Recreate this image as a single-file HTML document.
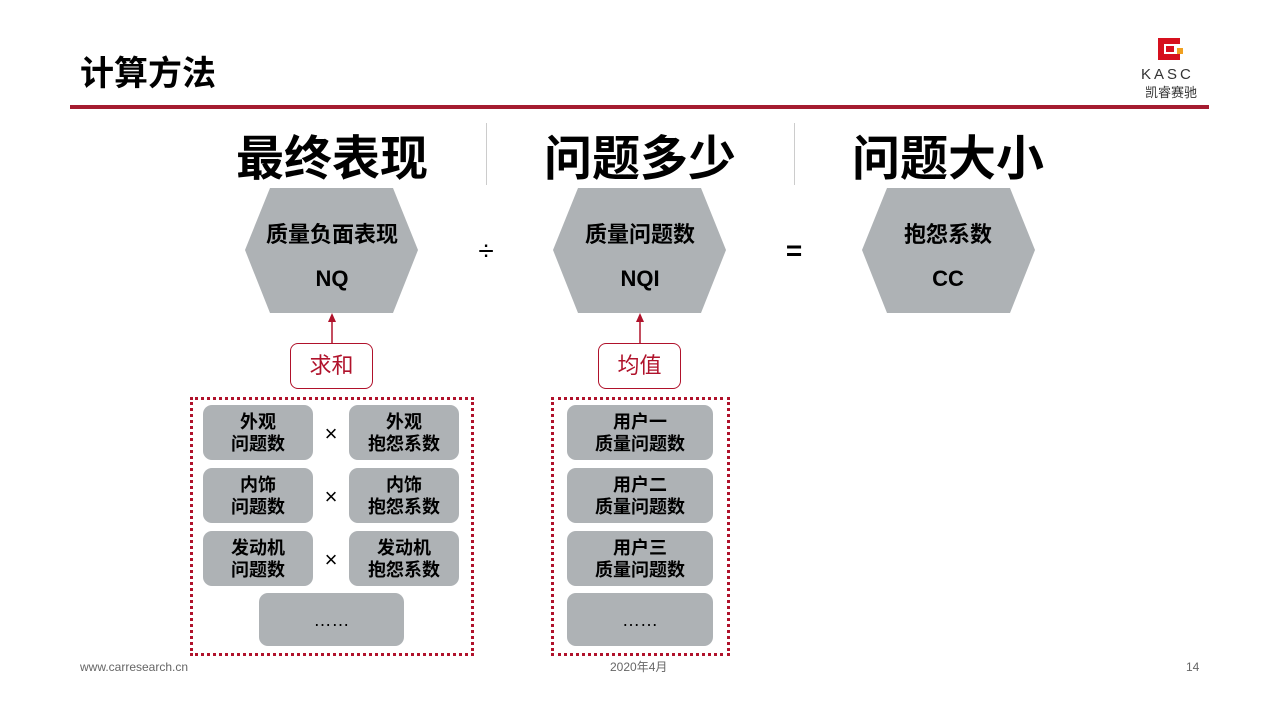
<!DOCTYPE html>
<html><head><meta charset="utf-8"><style>
body{margin:0;width:1280px;height:720px;background:#fff;position:relative;overflow:hidden;font-family:"Liberation Sans","Noto Sans CJK SC",sans-serif}
.a{position:absolute}
.h{position:absolute;font-size:48px;font-weight:bold;text-align:center;width:300px;top:119px;color:#000}
.sb{position:absolute;background:#aeb2b5;border-radius:9px;color:#000;font-weight:bold;font-size:18px;line-height:22px;text-align:center;display:flex;align-items:center;justify-content:center}
.x{position:absolute;font-size:22px;width:30px;text-align:center}
.lb{position:absolute;border:1.5px solid #b0122b;border-radius:8px;color:#b0122b;font-size:22px;text-align:center;line-height:44px;width:81px;height:44px;background:#fff}
.db{position:absolute;border:3px dotted #b0122b}
.ft{position:absolute;top:660px;font-size:12px;color:#666}
</style></head><body>
<div class="a" style="left:80px;top:46px;font-size:34px;font-weight:bold">计算方法</div>
<div class="a" style="left:1158px;top:38px;width:22px;height:22px;border:6px solid #d6101e;border-right:none;box-sizing:border-box"></div>
<div class="a" style="left:1166px;top:46px;width:8px;height:6px;background:#d6101e"></div>
<div class="a" style="left:1177px;top:48px;width:6px;height:6px;background:#f0a020"></div>
<div class="a" style="left:1141px;top:66px;font-size:15px;letter-spacing:3px;color:#333">KASC</div>
<div class="a" style="left:1145px;top:82px;font-size:13px;color:#333">凯睿赛驰</div>
<div class="a" style="left:70px;top:105px;width:1139px;height:4px;background:#a51c30"></div>
<div class="h" style="left:182px">最终表现</div>
<div class="h" style="left:490px">问题多少</div>
<div class="h" style="left:798px">问题大小</div>
<div class="a" style="left:486px;top:123px;width:1px;height:62px;background:#ccc"></div>
<div class="a" style="left:794px;top:123px;width:1px;height:62px;background:#ccc"></div>
<svg class="a" style="left:0;top:0" width="1280" height="720">
<polygon points="270,188 393,188 418,250 393,313 270,313 245,250" fill="#aeb2b5"/>
<polygon points="578,188 701,188 726,250 701,313 578,313 553,250" fill="#aeb2b5"/>
<polygon points="887,188 1010,188 1035,250 1010,313 887,313 862,250" fill="#aeb2b5"/>
<line x1="332" y1="343" x2="332" y2="320" stroke="#b0122b" stroke-width="1.5"/>
<polygon points="328,322 336,322 332,313" fill="#b0122b"/>
<line x1="640" y1="343" x2="640" y2="320" stroke="#b0122b" stroke-width="1.5"/>
<polygon points="636,322 644,322 640,313" fill="#b0122b"/>
<g font-family="Liberation Sans,Noto Sans CJK SC,sans-serif" font-weight="bold" font-size="22" text-anchor="middle">
<text x="332" y="242">质量负面表现</text><text x="332" y="286">NQ</text>
<text x="640" y="242">质量问题数</text><text x="640" y="286">NQI</text>
<text x="948" y="242">抱怨系数</text><text x="948" y="286">CC</text>
<text x="486" y="260" font-weight="normal" font-size="28">÷</text>
<text x="794" y="260" font-size="28">=</text>
</g>
</svg>
<div class="lb" style="left:290px;top:343px">求和</div>
<div class="lb" style="left:598px;top:343px">均值</div>
<div class="db" style="left:190px;top:397px;width:278px;height:253px"></div>
<div class="db" style="left:551px;top:397px;width:173px;height:253px"></div>
<div class="sb" style="left:203px;top:405px;width:110px;height:55px">外观<br>问题数</div>
<div class="sb" style="left:349px;top:405px;width:110px;height:55px">外观<br>抱怨系数</div>
<div class="sb" style="left:203px;top:468px;width:110px;height:55px">内饰<br>问题数</div>
<div class="sb" style="left:349px;top:468px;width:110px;height:55px">内饰<br>抱怨系数</div>
<div class="sb" style="left:203px;top:531px;width:110px;height:55px">发动机<br>问题数</div>
<div class="sb" style="left:349px;top:531px;width:110px;height:55px">发动机<br>抱怨系数</div>
<div class="sb" style="left:259px;top:593px;width:145px;height:53px;font-weight:normal">……</div>
<div class="x" style="left:316px;top:421px">×</div>
<div class="x" style="left:316px;top:484px">×</div>
<div class="x" style="left:316px;top:547px">×</div>
<div class="sb" style="left:567px;top:405px;width:146px;height:55px">用户一<br>质量问题数</div>
<div class="sb" style="left:567px;top:468px;width:146px;height:55px">用户二<br>质量问题数</div>
<div class="sb" style="left:567px;top:531px;width:146px;height:55px">用户三<br>质量问题数</div>
<div class="sb" style="left:567px;top:593px;width:146px;height:53px;font-weight:normal">……</div>
<div class="ft" style="left:80px">www.carresearch.cn</div>
<div class="ft" style="left:610px;top:658px">2020年4月</div>
<div class="ft" style="left:1186px">14</div>
</body></html>
